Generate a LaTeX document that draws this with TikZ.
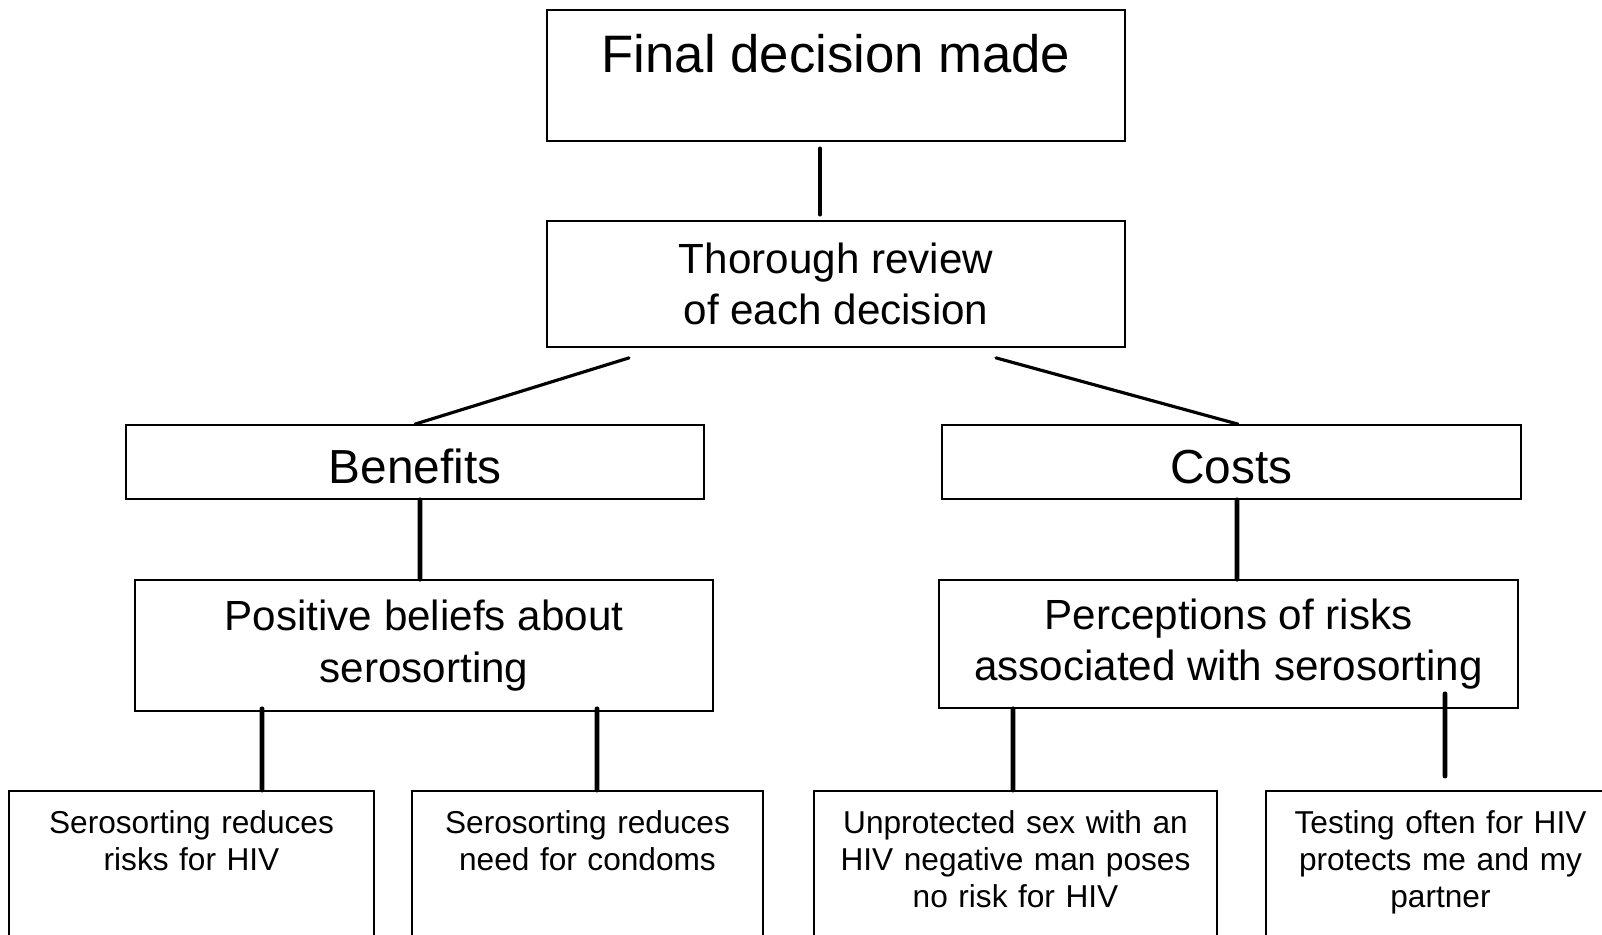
\documentclass[tikz,border=0pt]{standalone}
\usepackage{fontspec}
\setmainfont{Liberation Sans}

\begin{document}
\begin{tikzpicture}
        % Styles
        \tikzstyle{topblock} = [rectangle, draw, line width=0.5pt, inner sep=0pt,
            minimum width=5.78cm, font=\fontsize{15}{18}\selectfont,
            text height=0.62cm, text depth=0.69cm]
        \tikzstyle{block} = [rectangle, draw, line width=0.5pt, inner sep=0pt,
            minimum width=5.78cm, align=center, font=\fontsize{12}{14.6}\selectfont]
        \tikzstyle{headblock} = [block, minimum height=0.74cm, font=\fontsize{13.6}{16}\selectfont,
            text height=0.45cm, text depth=0.02cm]
        \tikzstyle{leafblock} = [rectangle, draw, line width=0.5pt, inner sep=0pt,
            anchor=north, align=center, font=\fontsize{9}{10.4}\selectfont,
            text height=0.43cm, text depth=1.6cm]
        \tikzstyle{conn} = [draw, line width=1.4pt, line cap=round]
        \tikzstyle{slant} = [draw, line width=0.9pt, line cap=round]

        \useasboundingbox (0,0) rectangle (16.02,-9.34);
        \clip (0,0) rectangle (16.02,-9.34);

        % Nodes
        \node [topblock] (final) at (8.36,-0.755) {Final decision made};
        \node [block, minimum height=1.26cm] (review) at (8.36,-2.84) {Thorough review\\of each decision};
        \node [headblock] (benefits) at (4.15,-4.62) {Benefits};
        \node [headblock, minimum width=5.79cm] (costs) at (12.315,-4.62) {Costs};
        \node [block, minimum height=1.31cm] (positive) at (4.24,-6.455) {Positive beliefs about\\serosorting};
        \node [block, minimum width=5.79cm, minimum height=1.28cm] (perceptions) at (12.285,-6.44) {Perceptions of risks\\associated with serosorting};
        \node [leafblock, text width=3.65cm] (reduceshiv) at (1.915,-7.90) {Serosorting reduces\\risks for HIV};
        \node [leafblock, text width=3.51cm] (reducescondoms) at (5.875,-7.90) {Serosorting reduces\\need for condoms};
        \node [leafblock, text width=4.03cm] (unprotected) at (10.155,-7.90) {Unprotected sex with an\\HIV negative man poses\\no risk for HIV};
        \node [leafblock, text width=3.49cm] (testing) at (14.405,-7.90) {Testing often for HIV\\protects me and my\\partner};

        % Connections
        \path [conn] ([xshift=-0.16cm, yshift=-0.07cm]final.south) -- ([xshift=-0.16cm, yshift=0.06cm]review.north);
        \path [slant] ([xshift=-2.07cm, yshift=-0.10cm]review.south) -- (benefits.north);
        \path [slant] ([xshift=1.60cm, yshift=-0.10cm]review.south) -- ([xshift=0.065cm]costs.north);
        \path [conn] ([xshift=0.05cm]benefits.south) -- ([xshift=-0.04cm]positive.north);
        \path [conn] ([xshift=0.055cm]costs.south) -- ([xshift=0.085cm]perceptions.north);
        \path [conn] ([xshift=-1.62cm, yshift=0.03cm]positive.south) -- ([xshift=0.705cm]reduceshiv.north);
        \path [conn] ([xshift=1.73cm, yshift=0.03cm]positive.south) -- ([xshift=0.095cm]reducescondoms.north);
        \path [conn] ([xshift=-2.155cm]perceptions.south) -- ([xshift=-0.025cm]unprotected.north);
        \path [conn] ([xshift=2.165cm, yshift=0.15cm]perceptions.south) -- ([xshift=0.045cm, yshift=0.14cm]testing.north);
    \end{tikzpicture}
\end{document}
